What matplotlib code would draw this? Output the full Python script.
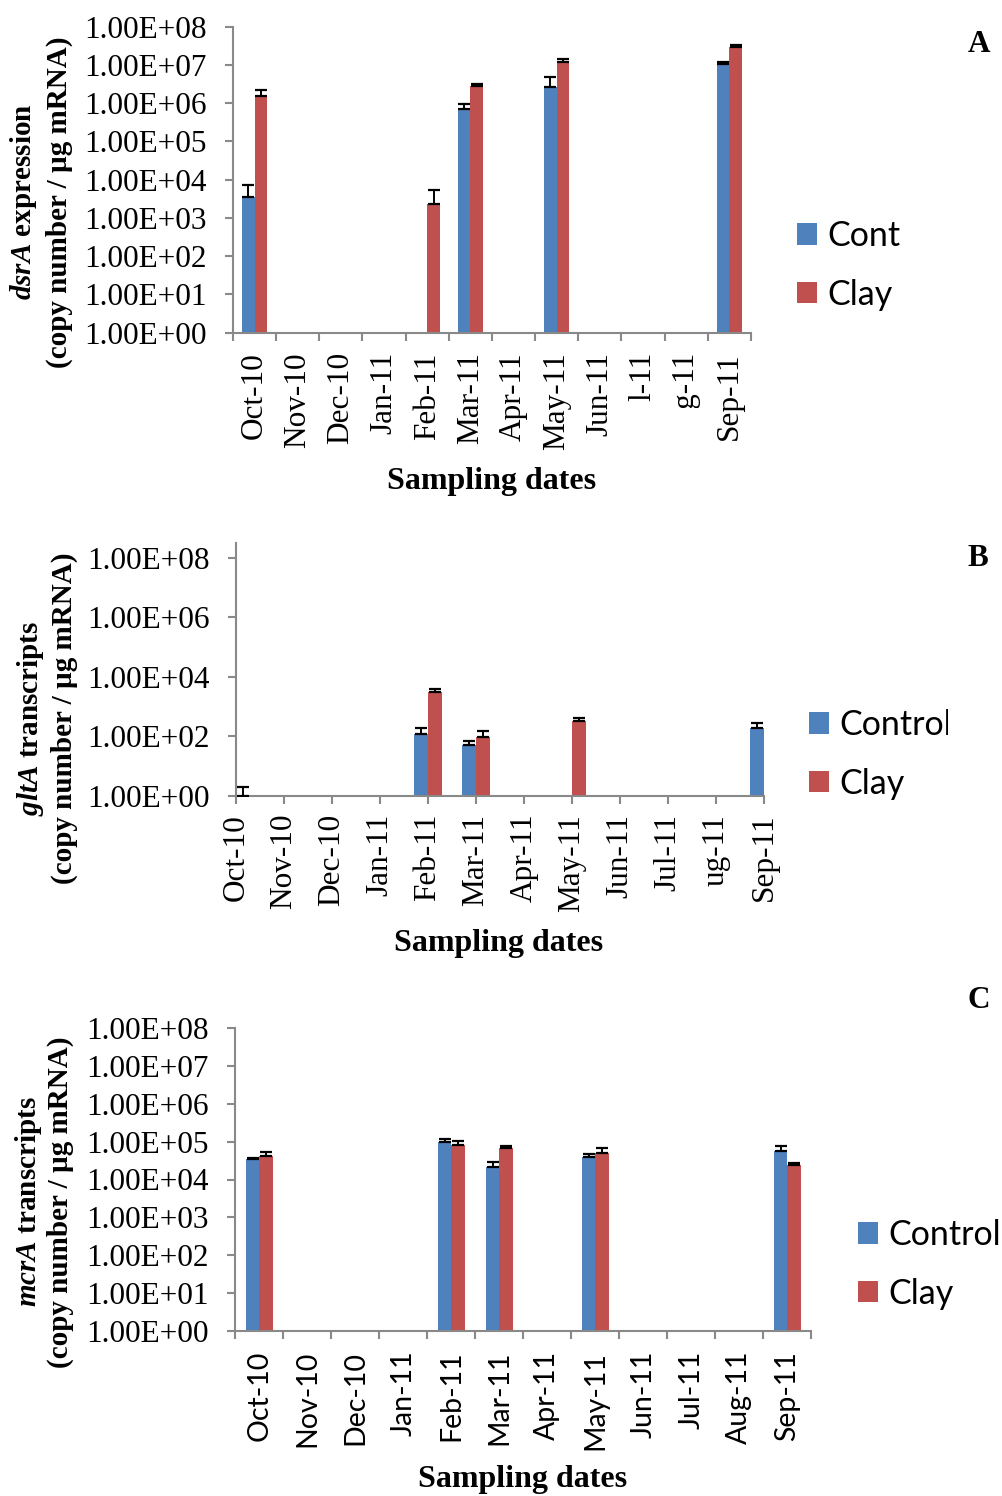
import matplotlib
matplotlib.use('Agg')
import matplotlib.pyplot as plt
from matplotlib.ticker import FixedLocator, NullLocator, FuncFormatter
from matplotlib.transforms import Bbox, TransformedBbox

plt.rcParams['mathtext.fontset'] = 'custom'
plt.rcParams['mathtext.it'] = 'Liberation Serif:italic:bold'
plt.rcParams['mathtext.rm'] = 'Liberation Serif:bold'

months = ['Oct-10', 'Nov-10', 'Dec-10', 'Jan-11', 'Feb-11', 'Mar-11',
          'Apr-11', 'May-11', 'Jun-11', 'Jul-11', 'Aug-11', 'Sep-11']

# A - dsrA expression (0 = not detected)
dsr_ctrl = [3.6e3, 0, 0, 0, 0, 7.1e5, 0, 2.6e6, 0, 0, 0, 1.04e7]
dsr_ctrl_sd = [3.5e3, 0, 0, 0, 0, 2.3e5, 0, 2.3e6, 0, 0, 0, 1.6e6]
dsr_clay = [1.57e6, 0, 0, 0, 2.3e3, 2.9e6, 0, 1.22e7, 0, 0, 0, 2.9e7]
dsr_clay_sd = [6.3e5, 0, 0, 0, 3.2e3, 3.0e5, 0, 1.8e6, 0, 0, 0, 4.0e6]
dsr_labels = ['Oct-10', 'Nov-10', 'Dec-10', 'Jan-11', 'Feb-11', 'Mar-11',
              'Apr-11', 'May-11', 'Jun-11', 'l-11', 'Aug-11', 'Sep-11']

# B - gltA transcripts
glt_ctrl = [0, 0, 0, 0, 119, 51, 0, 0, 0, 0, 0, 184]
glt_ctrl_sd = [0, 0, 0, 0, 70, 19, 0, 0, 0, 0, 0, 93]
glt_clay = [1, 0, 0, 0, 3130, 96, 0, 317, 0, 0, 0, 184]
glt_clay_sd = [1, 0, 0, 0, 850, 57, 0, 83, 0, 0, 0, 0]
glt_labels = ['Oct-10', 'Nov-10', 'Dec-10', 'Jan-11', 'Feb-11', 'Mar-11',
              'Apr-11', 'May-11', 'Jun-11', 'Jul-11', 'ug-11', 'Sep-11']

# C - mcrA transcripts
mcr_ctrl = [3.5e4, 0, 0, 0, 9.5e4, 2.2e4, 0, 4.0e4, 0, 0, 0, 5.6e4]
mcr_ctrl_sd = [1.0e3, 0, 0, 0, 2.0e4, 7.0e3, 0, 6.0e3, 0, 0, 0, 2.0e4]
mcr_clay = [4.2e4, 0, 0, 0, 8.1e4, 6.9e4, 0, 5.0e4, 0, 0, 0, 2.35e4]
mcr_clay_sd = [1.0e4, 0, 0, 0, 2.4e4, 6.0e3, 0, 1.6e4, 0, 0, 0, 4.5e3]

BLUE = '#4F81BD'
RED = '#C0504D'
GREY = '#898989'
SERIF = 'Liberation Serif'
SANS = 'Lato'

W, H = 1003, 1496
fig = plt.figure(figsize=(W / 100, H / 100), dpi=100)


def add_axes_px(left, top, right, bottom):
    return fig.add_axes([left / W, 1 - bottom / H, (right - left) / W, (bottom - top) / H])


def fig_box(x0, y0, x1, y1):
    # pixel box (top-left origin) -> display-space clip box
    return TransformedBbox(Bbox([[x0 / W, 1 - y1 / H], [x1 / W, 1 - y0 / H]]), fig.transFigure)


def draw_panel(ax, ctrl, ctrl_sd, clay, clay_sd, labels, width, offset, xmax,
               ymax, yticks, between, xfont, xsize, xpad):
    n = len(months)
    centers = [i + offset for i in range(n)]
    xc = [c - width / 2 for c in centers]
    xr = [c + width / 2 for c in centers]
    ax.set_yscale('log')
    ax.bar(xc, ctrl, width, color=BLUE, label='Control', zorder=1)
    ax.bar(xr, clay, width, color=RED, label='Clay', zorder=1)
    for xs, vals, sds in ((xc, ctrl, ctrl_sd), (xr, clay, clay_sd)):
        for x, v, s in zip(xs, vals, sds):
            if v > 0 and s > 0:
                ax.errorbar([x], [v], yerr=[[0], [s]], fmt='none', ecolor='black',
                            elinewidth=1.4, capsize=4.4, capthick=1.6, zorder=3)
    ax.set_xlim(0, xmax)
    ax.set_ylim(1, ymax)
    ax.yaxis.set_major_locator(FixedLocator(yticks))
    ax.yaxis.set_minor_locator(NullLocator())
    ax.yaxis.set_major_formatter(FuncFormatter(lambda v, p: f'{v:.2E}'))
    for s in ('top', 'right'):
        ax.spines[s].set_visible(False)
    for s in ('left', 'bottom'):
        ax.spines[s].set_color(GREY)
        ax.spines[s].set_linewidth(1.5)
    ax.tick_params(axis='y', which='major', length=6, width=1.5, color=GREY,
                   pad=13, labelsize=22.5)
    for t in ax.get_yticklabels():
        t.set_fontfamily(SERIF)
    if between:
        ax.set_xticks(range(n + 1))
        ax.set_xticklabels([])
        ax.set_xticks(centers, minor=True)
        ax.set_xticklabels(labels, minor=True, rotation=90, fontfamily=xfont,
                           fontsize=xsize)
        ax.tick_params(axis='x', which='major', length=6, width=1.5, color=GREY)
        ax.tick_params(axis='x', which='minor', length=0, pad=xpad)
        ticklabels = ax.get_xticklabels(minor=True)
    else:
        ax.set_xticks(centers)
        ax.set_xticklabels(labels, rotation=90, fontfamily=xfont, fontsize=xsize)
        ax.tick_params(axis='x', which='major', length=6, width=1.5, color=GREY, pad=xpad)
        ax.xaxis.set_minor_locator(NullLocator())
        ticklabels = ax.get_xticklabels()
    return ticklabels


def ylabel(x1, x2, y, gene, rest):
    fig.text(x1 / W, 1 - y / H, r'$\mathit{' + gene + '}$' + rest, rotation=90,
             ha='center', va='center', fontsize=21, fontweight='bold', fontfamily=SERIF)
    fig.text(x2 / W, 1 - y / H, '(copy number / \u00b5g mRNA)', rotation=90,
             ha='center', va='center', fontsize=21, fontweight='bold', fontfamily=SERIF)


def legend(ax, x, y, clip_x):
    leg = ax.legend(loc='upper left', bbox_to_anchor=(x / W, 1 - y / H),
                    bbox_transform=fig.transFigure, frameon=False,
                    prop={'family': SANS, 'size': 24.5}, handlelength=0.6,
                    handleheight=0.6, handletextpad=0.3, labelspacing=0.78,
                    borderpad=0, borderaxespad=0)
    if clip_x is not None:
        for t in leg.get_texts():
            t.set_clip_on(True)
            t.set_clip_box(fig_box(0, 0, clip_x, H))
    return leg


def xlabel(x, y):
    fig.text(x / W, 1 - y / H, 'Sampling dates', ha='center', va='center',
             fontsize=23, fontweight='bold', fontfamily=SERIF)


def letter(x, y, s):
    fig.text(x / W, 1 - y / H, s, ha='center', va='center', fontsize=22.5,
             fontweight='bold', fontfamily=SERIF)


# Panel A
axA = add_axes_px(233, 26.7, 751, 332.7)
labsA = draw_panel(axA, dsr_ctrl, dsr_ctrl_sd, dsr_clay, dsr_clay_sd, dsr_labels,
                   0.29, 0.5, 12, 1e8, [10.0 ** k for k in range(9)], True, SERIF,
                   22.5, 14)
# Aug-11 label is only partly printed
labsA[10].set_clip_on(True)
labsA[10].set_clip_box(fig_box(0, 0, W, 408))
ylabel(24, 59.5, 202, 'dsrA', ' expression')
legend(axA, 797, 220, 901.7)
xlabel(492, 481)
letter(979, 44, 'A')

# Panel B
axB = add_axes_px(236, 542.7, 764, 795.7)
draw_panel(axB, glt_ctrl, glt_ctrl_sd, glt_clay, glt_clay_sd, glt_labels,
           0.29, 0.0, 11, 10 ** 8.5, [10.0 ** k for k in (0, 2, 4, 6, 8)], False, SERIF,
           22.5, 7)
ylabel(31, 64, 718, 'gltA', ' transcripts')
legend(axB, 809, 709, 947.7)
xlabel(499, 943)
letter(978, 558, 'B')

# Panel C
axC = add_axes_px(235.3, 1027.7, 811.3, 1331.3)
draw_panel(axC, mcr_ctrl, mcr_ctrl_sd, mcr_clay, mcr_clay_sd, months,
           0.283, 0.5, 12, 1e8, [10.0 ** k for k in range(9)], True, SANS,
           20.5, 14)
ylabel(29, 60, 1202, 'mcrA', ' transcripts')
legend(axC, 858, 1219, None)
xlabel(523, 1479)
letter(979, 1001, 'C')

fig.savefig('out.png', dpi=100)
